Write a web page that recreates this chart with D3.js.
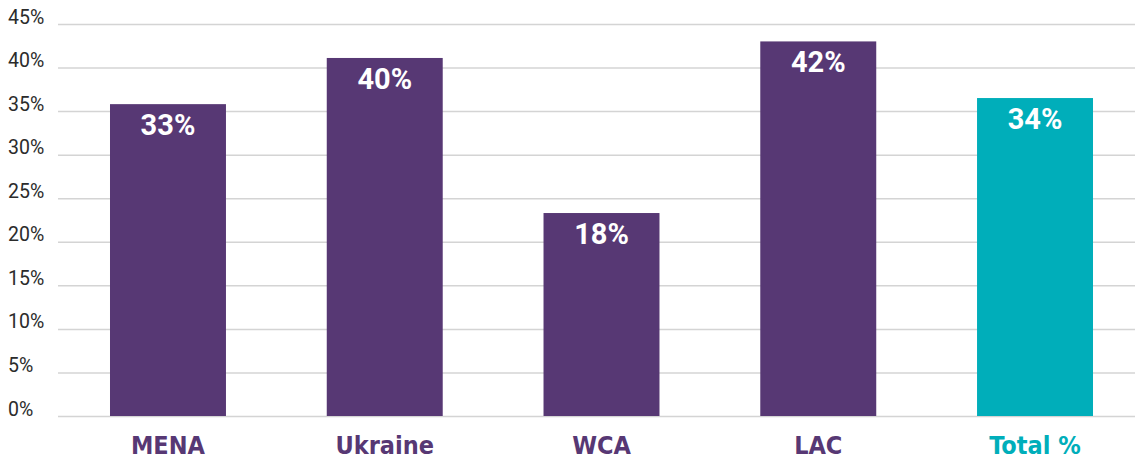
<!DOCTYPE html>
<html>
<head>
<meta charset="utf-8">
<script src="https://cdn.jsdelivr.net/npm/d3@7/dist/d3.min.js"></script>
<style>
  body { margin: 0; background: #fff; }
  svg { display: block; font-family: Roboto, "Liberation Sans", sans-serif; }
  .grid line { stroke: #d4d4d4; stroke-width: 1.5; }
  .grid path { display: none; }
  .grid text { fill: #2b2b2b; font-size: 19.5px; font-family: Roboto, sans-serif; }
</style>
</head>
<body>
<div id="chart"></div>
<script>
var WIDTH = 1135;
var HEIGHT = 462;
var PURPLE = "#573874";
var TEAL = "#00aeba";

// bar heights as drawn, and the printed labels
var categories = ["MENA", "Ukraine", "WCA", "LAC", "Total %"];
var barValues = [35.8, 41.1, 23.3, 43.0, 36.5];
var barLabels = ["33%", "40%", "18%", "42%", "34%"];
var yTicks = [0, 5, 10, 15, 20, 25, 30, 35, 40, 45];

var svg = d3.select("#chart").append("svg")
  .attr("width", WIDTH)
  .attr("height", HEIGHT);

var x = d3.scaleBand()
  .domain(categories)
  .range([59.6, 1143.4])
  .paddingInner(0.465)
  .paddingOuter(0.2325);

var y = d3.scaleLinear()
  .domain([0, 45])
  .range([416, 24]);

// gridlines + tick labels
var grid = svg.append("g")
  .attr("class", "grid")
  .attr("transform", "translate(58,0)")
  .call(d3.axisLeft(y)
    .tickValues(yTicks)
    .tickSize(-(WIDTH - 58))
    .tickFormat(function(d) { return d + "%"; }));
grid.selectAll("text")
  .attr("x", -50)
  .attr("dy", "-0.05em")
  .attr("text-anchor", "start");

function colorFor(d) {
  return d === "Total %" ? TEAL : PURPLE;
}

// bars
svg.selectAll(".bar")
  .data(categories)
  .enter()
  .append("rect")
  .attr("class", "bar")
  .attr("x", function(d) { return x(d); })
  .attr("width", x.bandwidth())
  .attr("y", function(d, i) { return y(barValues[i]); })
  .attr("height", function(d, i) { return y(0) - y(barValues[i]); })
  .attr("fill", colorFor);

// value labels inside bars
svg.selectAll(".value")
  .data(categories)
  .enter()
  .append("text")
  .attr("class", "value")
  .attr("x", function(d) { return x(d) + x.bandwidth() / 2; })
  .attr("y", function(d, i) { return y(barValues[i]) + 31; })
  .attr("text-anchor", "middle")
  .attr("fill", "#fff")
  .style("font-size", "29px")
  .style("font-weight", 700)
  .text(function(d, i) { return barLabels[i]; });

// category labels
svg.selectAll(".cat")
  .data(categories)
  .enter()
  .append("text")
  .attr("class", "cat")
  .attr("x", function(d) { return x(d) + x.bandwidth() / 2; })
  .attr("y", 454)
  .attr("text-anchor", "middle")
  .attr("fill", colorFor)
  .style("font-family", "'DejaVu Sans Condensed', 'DejaVu Sans', sans-serif")
  .style("font-size", "25px")
  .style("font-weight", 700)
  .text(function(d) { return d; });
</script>
</body>
</html>
